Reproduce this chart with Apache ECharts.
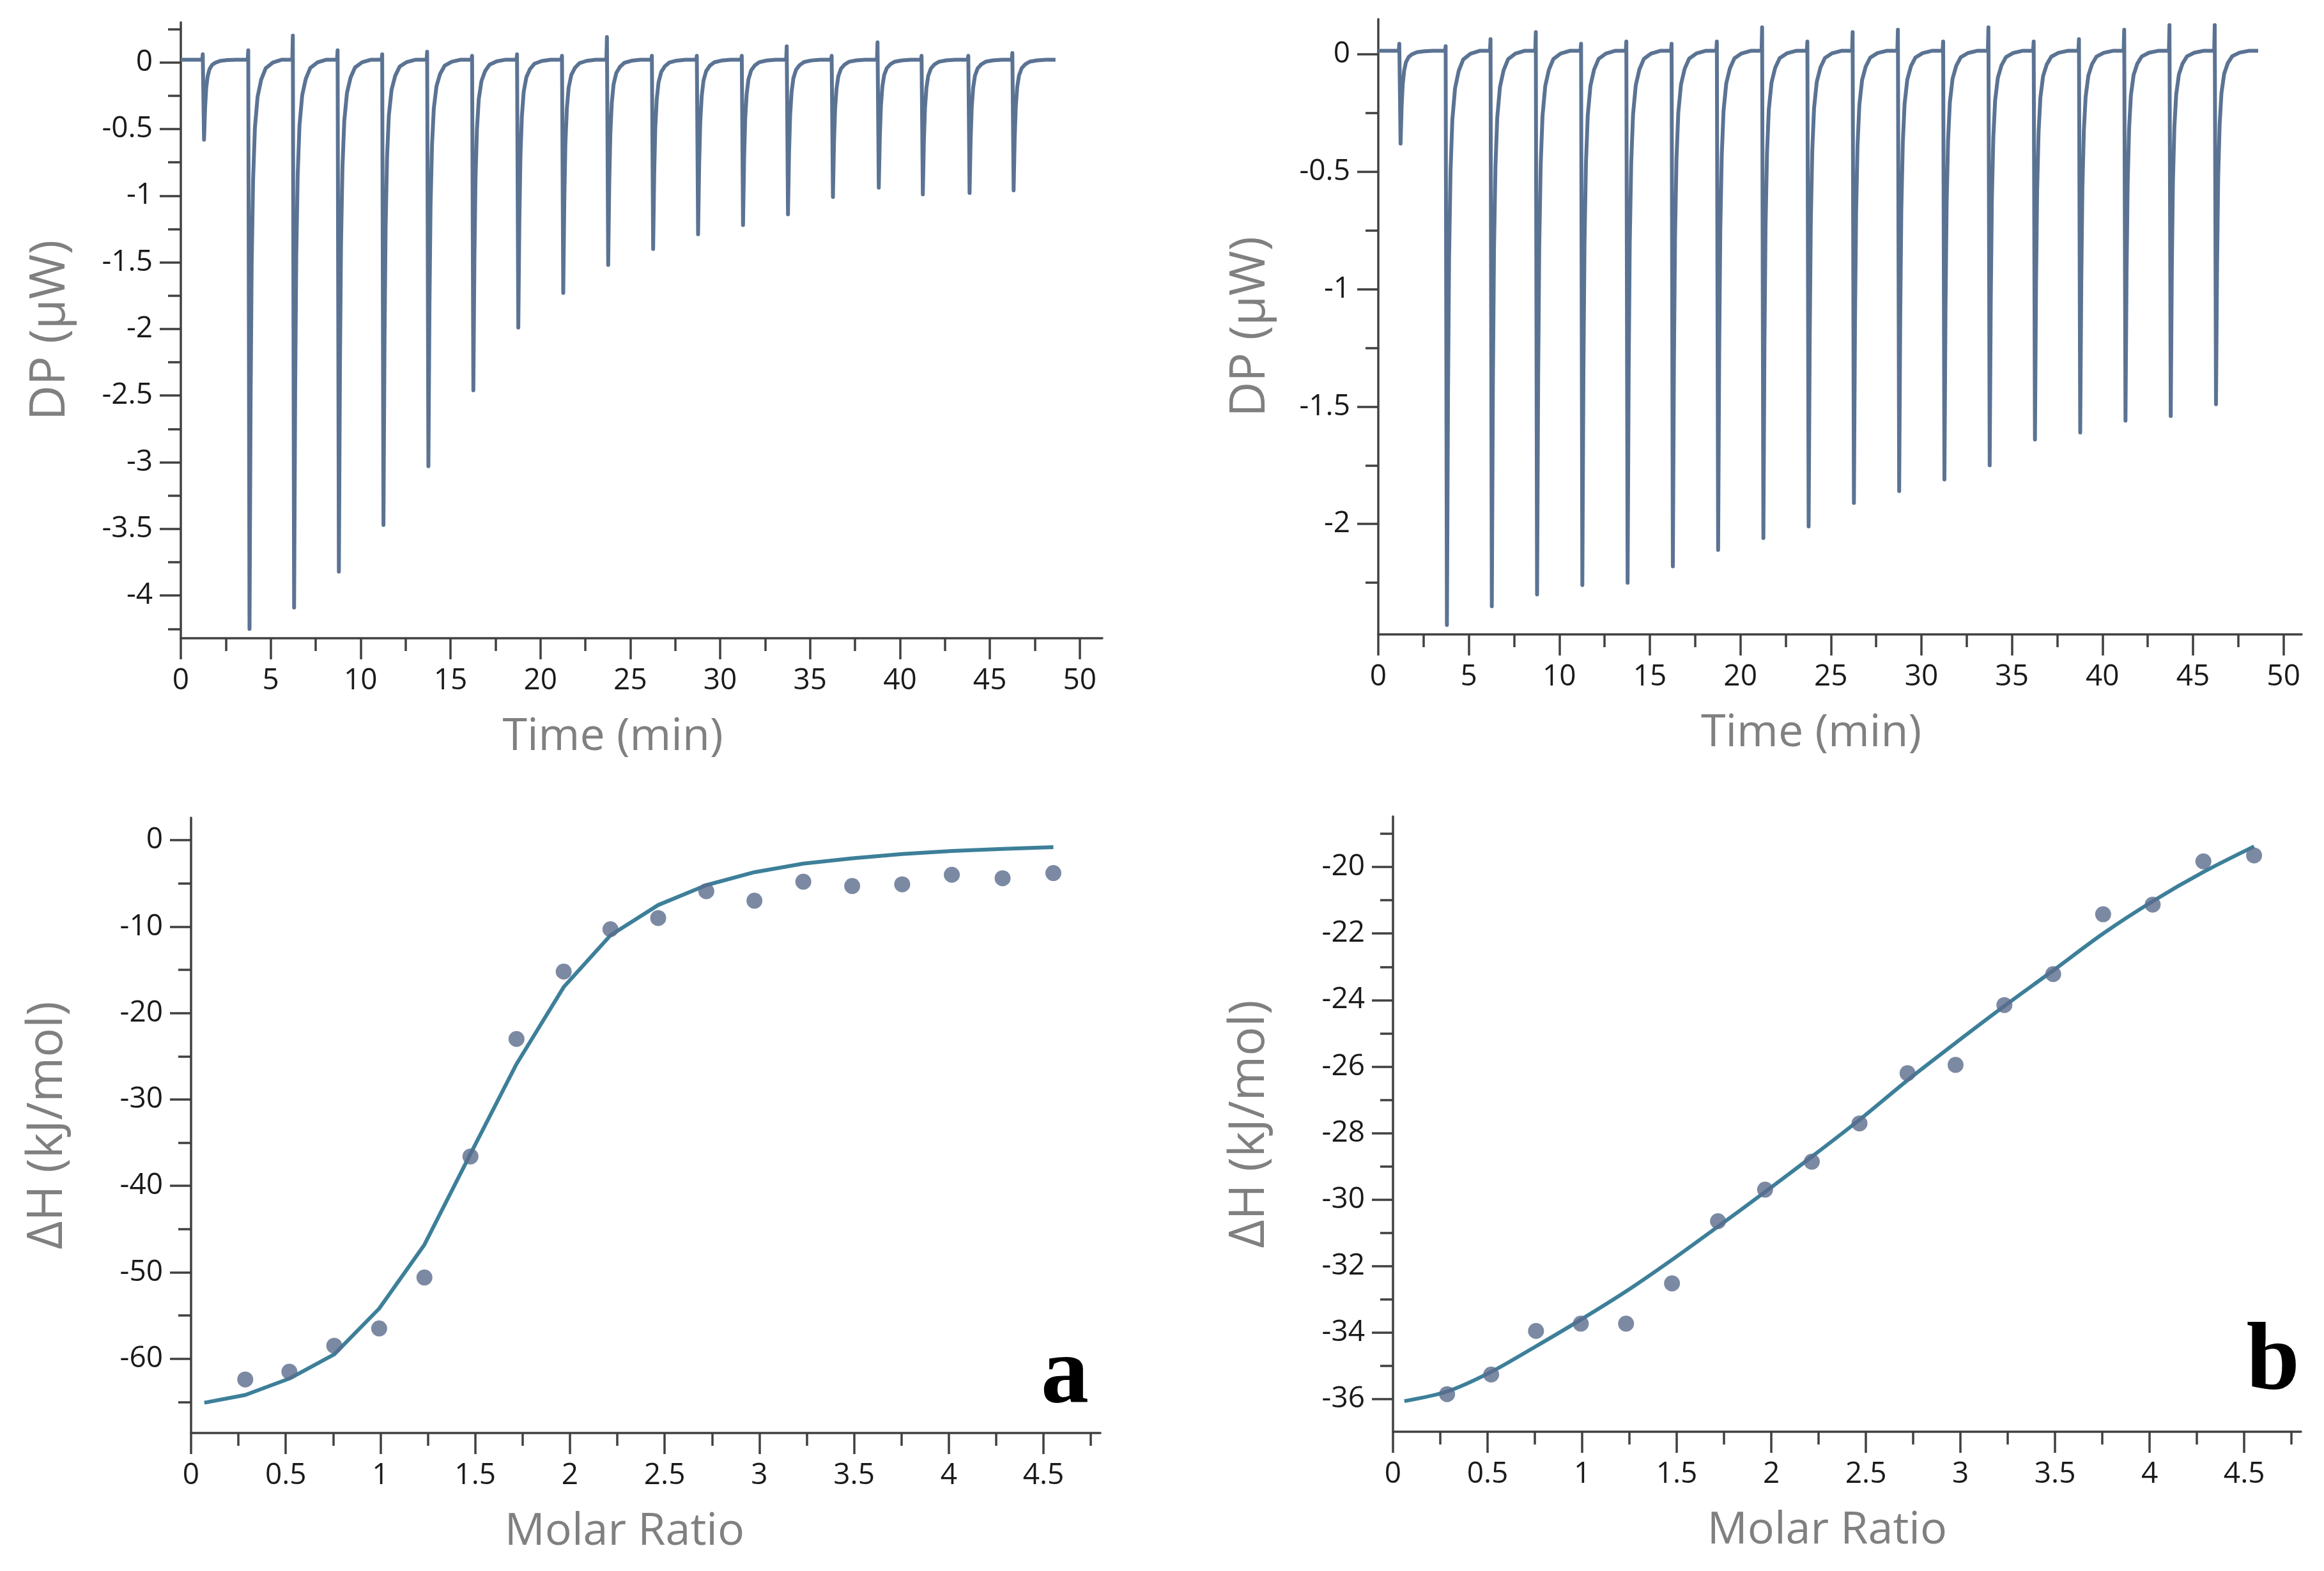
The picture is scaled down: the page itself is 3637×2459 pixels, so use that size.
<!DOCTYPE html>
<html>
<head>
<meta charset="utf-8">
<script src="https://cdn.jsdelivr.net/npm/echarts@6/dist/echarts.min.js"></script>
<style>
html,body{margin:0;padding:0;background:#fff;}
#chart{width:3637px;height:2459px;}
</style>
</head>
<body>
<div id="chart"></div>
<script>
// ---------- Data ----------
// Panel a, raw thermogram (top-left): injection times (min), peak minima (µW), small upward spikes at injection (µW)
const injTimeA = [1.22, 3.75, 6.23, 8.72, 11.2, 13.7, 16.2, 18.7, 21.2, 23.7, 26.2, 28.7, 31.2, 33.7, 36.2, 38.75, 41.2, 43.8, 46.25];
const peakDPA  = [-0.58, -4.25, -4.09, -3.82, -3.47, -3.03, -2.46, -1.99, -1.73, -1.52, -1.40, -1.29, -1.22, -1.14, -1.01, -0.94, -0.99, -0.98, -0.96];
const spikeUpA = [0.04, 0.07, 0.18, 0.07, 0.04, 0.06, 0.03, 0.04, 0.03, 0.17, 0.03, 0.03, 0.03, 0.10, 0.03, 0.13, 0.03, 0.03, 0.05];
const baselineA = 0.02;
const traceEndA = 48.65;

// Panel b, raw thermogram (top-right)
const injTimeB = [1.16, 3.72, 6.2, 8.7, 11.2, 13.7, 16.2, 18.7, 21.2, 23.7, 26.2, 28.7, 31.2, 33.7, 36.2, 38.7, 41.2, 43.7, 46.2];
const peakDPB  = [-0.38, -2.43, -2.35, -2.30, -2.26, -2.25, -2.18, -2.11, -2.06, -2.01, -1.91, -1.86, -1.81, -1.75, -1.64, -1.61, -1.56, -1.54, -1.49];
const spikeUpB = [0.03, 0.02, 0.05, 0.08, 0.03, 0.04, 0.03, 0.04, 0.10, 0.04, 0.08, 0.09, 0.04, 0.10, 0.04, 0.05, 0.09, 0.11, 0.11];
const baselineB = 0.015;
const traceEndB = 48.6;

// Shape of the return to baseline after each peak
const recoveryDt   = [0, 0.06, 0.12, 0.2, 0.3, 0.45, 0.65, 0.9, 1.3, 1.8];
const recoveryFrac = [1, 0.6, 0.36, 0.21, 0.12, 0.065, 0.035, 0.015, 0.005, 0];

// Integrated heats (bottom panels)
const molarRatio = [0.286, 0.519, 0.756, 0.993, 1.232, 1.475, 1.718, 1.967, 2.214, 2.466, 2.72, 2.974, 3.232, 3.49, 3.754, 4.016, 4.284, 4.552];
const dHA = [-62.4, -61.5, -58.5, -56.5, -50.6, -36.6, -23.0, -15.2, -10.3, -9.0, -5.9, -7.0, -4.8, -5.3, -5.1, -4.0, -4.4, -3.8];
const fitXA = [0.07, 0.286, 0.519, 0.756, 0.993, 1.232, 1.475, 1.718, 1.967, 2.214, 2.466, 2.72, 2.974, 3.232, 3.49, 3.754, 4.016, 4.284, 4.552];
const fitYA = [-65.1, -64.2, -62.3, -59.5, -54.2, -46.8, -36.3, -25.9, -17.0, -11.0, -7.5, -5.2, -3.7, -2.7, -2.1, -1.6, -1.25, -1.0, -0.8];

const dHB = [-35.85, -35.26, -33.95, -33.73, -33.73, -32.52, -30.65, -29.70, -28.86, -27.71, -26.20, -25.95, -24.15, -23.22, -21.42, -21.13, -19.83, -19.65];
const fitXB = [0.06, 0.286, 0.519, 0.756, 0.993, 1.232, 1.475, 1.718, 1.967, 2.214, 2.466, 2.72, 2.974, 3.232, 3.49, 3.754, 4.016, 4.284, 4.552];
const fitYB = [-36.06, -35.77, -35.18, -34.41, -33.61, -32.76, -31.81, -30.81, -29.77, -28.71, -27.60, -26.41, -25.29, -24.18, -23.11, -22.0, -21.03, -20.15, -19.38];

// Tick values
const timeMajor = [0, 5, 10, 15, 20, 25, 30, 35, 40, 45, 50];
const timeMinor = [2.5, 7.5, 12.5, 17.5, 22.5, 27.5, 32.5, 37.5, 42.5, 47.5];
const dpMajorA = [0, -0.5, -1, -1.5, -2, -2.5, -3, -3.5, -4];
const dpMinorA = [0.25, -0.25, -0.75, -1.25, -1.75, -2.25, -2.75, -3.25, -3.75, -4.25];
const dpMajorB = [0, -0.5, -1, -1.5, -2];
const dpMinorB = [-0.25, -0.75, -1.25, -1.75, -2.25];
const ratioMajor = [0, 0.5, 1, 1.5, 2, 2.5, 3, 3.5, 4, 4.5];
const ratioMinor = [0.25, 0.75, 1.25, 1.75, 2.25, 2.75, 3.25, 3.75, 4.25, 4.75];
const dhMajorA = [0, -10, -20, -30, -40, -50, -60];
const dhMinorA = [-5, -15, -25, -35, -45, -55, -65];
const dhMajorB = [-20, -22, -24, -26, -28, -30, -32, -34, -36];
const dhMinorB = [-19, -21, -23, -25, -27, -29, -31, -33, -35];

// ---------- Build trace from the read values ----------
function buildTrace(inj, peaks, ups, base, tEnd) {
  const pts = [[0, base]];
  for (let i = 0; i < inj.length; i++) {
    const t0 = inj[i];
    pts.push([t0 - 0.03, base]);
    pts.push([t0, base + ups[i]]);
    const tp = t0 + 0.07;
    for (let k = 0; k < recoveryDt.length; k++) {
      const t = tp + recoveryDt[k];
      if (i + 1 < inj.length && t >= inj[i + 1] - 0.03) break;
      pts.push([t, base + (peaks[i] - base) * recoveryFrac[k]]);
    }
  }
  pts.push([tEnd, base]);
  return pts;
}
const traceA = buildTrace(injTimeA, peakDPA, spikeUpA, baselineA, traceEndA);
const traceB = buildTrace(injTimeB, peakDPB, spikeUpB, baselineB, traceEndB);
const zip = (xs, ys) => xs.map((x, i) => [x, ys[i]]);

// ---------- Styles ----------
const AX = '#404040';
const LABEL_FONT = '"Open Sans", "Noto Sans", sans-serif';
const labelStyle = {color: '#1a1a1a', fontSize: 46, fontFamily: LABEL_FONT};
const xNameStyle = {color: '#808080', fontSize: 70, fontFamily: LABEL_FONT};
const yNameStyle = {color: '#808080', fontSize: 76, fontFamily: LABEL_FONT};

function fmt(v) { return String(Math.round(v * 100) / 100); }

function xAxesFor(grid, min, max, major, minor, name, shift) {
  return [
    {type: 'value', gridIndex: grid, min: min, max: max, position: 'bottom',
     name: name, nameLocation: 'middle', nameGap: 120, nameTextStyle: Object.assign({padding: [0, shift, 0, 0]}, xNameStyle),
     axisLine: {show: true, onZero: false, lineStyle: {color: AX, width: 3.5}},
     axisTick: {show: true, customValues: major, length: 33, lineStyle: {color: AX, width: 3.5}},
     axisLabel: Object.assign({show: true, customValues: major, margin: 44, formatter: fmt}, labelStyle),
     splitLine: {show: false}},
    {type: 'value', gridIndex: grid, min: min, max: max, position: 'bottom',
     axisLine: {show: false, onZero: false},
     axisTick: {show: true, customValues: minor, length: 20, lineStyle: {color: AX, width: 3.5}},
     axisLabel: {show: false}, splitLine: {show: false}}
  ];
}
function yAxesFor(grid, min, max, major, minor, name, gap) {
  return [
    {type: 'value', gridIndex: grid, min: min, max: max, position: 'left',
     name: name, nameLocation: 'middle', nameGap: gap, nameTextStyle: yNameStyle,
     axisLine: {show: true, onZero: false, lineStyle: {color: AX, width: 3.5}},
     axisTick: {show: true, customValues: major, length: 33, lineStyle: {color: AX, width: 3.5}},
     axisLabel: Object.assign({show: true, customValues: major, margin: 44, formatter: fmt}, labelStyle),
     splitLine: {show: false}},
    {type: 'value', gridIndex: grid, min: min, max: max, position: 'left',
     axisLine: {show: false, onZero: false},
     axisTick: {show: true, customValues: minor, length: 20, lineStyle: {color: AX, width: 3.5}},
     axisLabel: {show: false}, splitLine: {show: false}}
  ];
}

const TRACE = '#5b7393';
const FIT = '#3d7f99';
const DOT = '#5a6c8c';

const option = {
  animation: false,
  backgroundColor: '#ffffff',
  grid: [
    {left: 283, top: 35, width: 1442, height: 964},
    {left: 2157, top: 30, width: 1445, height: 963},
    {left: 299, top: 1280, width: 1423, height: 963},
    {left: 2180, top: 1278, width: 1421, height: 963}
  ],
  xAxis: [].concat(
    xAxesFor(0, 0, 51.25, timeMajor, timeMinor, 'Time (min)', 90),
    xAxesFor(1, 0, 51.0, timeMajor, timeMinor, 'Time (min)', 90),
    xAxesFor(2, 0, 4.8, ratioMajor, ratioMinor, 'Molar Ratio', 66),
    xAxesFor(3, 0, 4.8, ratioMajor, ratioMinor, 'Molar Ratio', 62)
  ),
  yAxis: [].concat(
    yAxesFor(0, -4.32, 0.3, dpMajorA, dpMinorA, 'DP (μW)', 166),
    yAxesFor(1, -2.47, 0.15, dpMajorB, dpMinorB, 'DP (μW)', 162),
    yAxesFor(2, -68.6, 2.6, dhMajorA, dhMinorA, 'ΔH (kJ/mol)', 186),
    yAxesFor(3, -36.98, -18.48, dhMajorB, dhMinorB, 'ΔH (kJ/mol)', 186)
  ),
  series: [
    {type: 'line', xAxisIndex: 0, yAxisIndex: 0, data: traceA, showSymbol: false, symbol: 'none',
     lineStyle: {color: TRACE, width: 6, join: 'round'}, clip: true},
    {type: 'line', xAxisIndex: 2, yAxisIndex: 2, data: traceB, showSymbol: false, symbol: 'none',
     lineStyle: {color: TRACE, width: 6, join: 'round'}, clip: true},
    {type: 'line', xAxisIndex: 4, yAxisIndex: 4, data: zip(fitXA, fitYA), showSymbol: false, symbol: 'none',
     lineStyle: {color: FIT, width: 6}, z: 2},
    {type: 'scatter', xAxisIndex: 4, yAxisIndex: 4, data: zip(molarRatio, dHA), symbolSize: 25,
     itemStyle: {color: DOT}, z: 3},
    {type: 'line', xAxisIndex: 6, yAxisIndex: 6, data: zip(fitXB, fitYB), showSymbol: false, symbol: 'none',
     smooth: 0.3, lineStyle: {color: FIT, width: 6}, z: 2},
    {type: 'scatter', xAxisIndex: 6, yAxisIndex: 6, data: zip(molarRatio, dHB), symbolSize: 25,
     itemStyle: {color: DOT}, z: 3}
  ],
  graphic: [
    {type: 'text', right: 3637 - 1704, top: 2080,
     style: {text: 'a', font: 'bold 150px "Liberation Serif", "Times New Roman", serif', fill: '#000'}},
    {type: 'text', right: 3637 - 3599, top: 2060,
     style: {text: 'b', font: 'bold 150px "Liberation Serif", "Times New Roman", serif', fill: '#000'}}
  ]
};

const chart = echarts.init(document.getElementById('chart'), null, {renderer: 'canvas'});
chart.setOption(option);
</script>
</body>
</html>
